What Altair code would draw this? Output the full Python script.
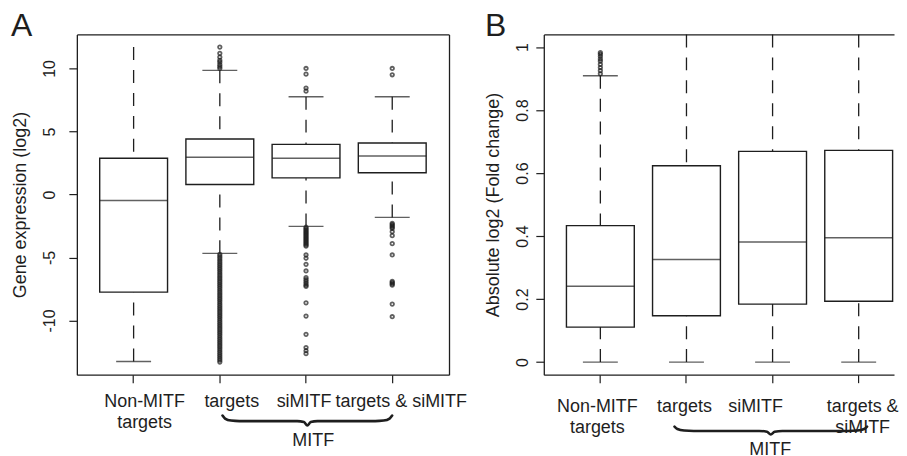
import altair as alt
import pandas as pd

FONT = "Liberation Sans"
INK = "#1e1e1e"

cats = ["Non-MITF targets", "targets", "siMITF", "targets & siMITF"]

# ---------------- Panel A : gene expression (log2) ----------------
a_low = [-13.25, -4.67, -2.53, -1.82]
a_q1 = [-7.75, 0.79, 1.32, 1.72]
a_med = [-0.47, 2.95, 2.87, 3.06]
a_q3 = [2.87, 4.40, 3.98, 4.09]
a_high = [11.7, 9.85, 7.76, 7.76]
a_cap_low = [-13.25, -4.67, -2.53, -1.82]
a_cap_high = [None, 9.85, 7.76, 7.76]

a_out_targets = [11.7, 11.2, 10.9, 10.65, 10.5, 10.3, 10.15, 10.0,
                 -4.75, -4.9, -5.05, -5.2, -5.35, -5.5, -5.65, -5.8, -5.95, -6.1,
                 -6.25, -6.4, -6.55, -6.7, -6.85, -7.0, -7.15, -7.3, -7.45, -7.6,
                 -7.75, -7.9, -8.05, -8.2, -8.35, -8.5, -8.65, -8.8, -8.95, -9.1,
                 -9.25, -9.4, -9.55, -9.7, -9.85, -10.0, -10.15, -10.3, -10.45,
                 -10.6, -10.75, -10.9, -11.05, -11.2, -11.35, -11.5, -11.65, -11.8,
                 -11.95, -12.1, -12.25, -12.4, -12.55, -12.7, -12.85, -13.0, -13.15, -13.3]
a_out_simitf = [10.0, 9.55, 8.45, 8.2,
                -2.6, -2.7, -2.8, -2.9, -3.0, -3.1, -3.2, -3.3, -3.4, -3.5, -3.6,
                -3.7, -3.8, -3.9, -4.0, -4.1, -4.8, -5.06, -5.54, -6.07,
                -6.6, -6.75, -6.9, -7.05, -7.2, -7.3, -8.6, -9.65, -11.1, -12.15, -12.4, -12.63]
a_out_both = [10.0, 9.5,
              -2.3, -2.4, -2.5, -2.6, -2.7, -2.95, -3.27, -3.9, -4.8,
              -6.9, -7.0, -7.1, -7.2, -8.7, -9.7]

# ---------------- Panel B : absolute log2 fold change ----------------
b_low = [0.0, 0.0, 0.0, 0.0]
b_q1 = [0.111, 0.147, 0.184, 0.193]
b_med = [0.241, 0.326, 0.381, 0.395]
b_q3 = [0.433, 0.623, 0.669, 0.672]
b_high = [0.909, 1.04, 1.04, 1.04]
b_cap_low = [0.0, 0.0, 0.0, 0.0]
b_cap_high = [0.909, None, None, None]
b_out_non = [0.915, 0.925, 0.935, 0.945, 0.955, 0.962, 0.97, 0.977, 0.982]

# tick-label lines and the sideways shift of each label (px)
a_label_lines = [["Non-MITF", "targets"], ["targets"], ["siMITF"], ["targets & siMITF"]]
b_label_lines = [["Non-MITF", "targets"], ["targets"], ["siMITF"], ["targets &", "siMITF"]]
a_label_shift = [11, 12, -2, 9]
b_label_shift = [-3, -2, -17, 4]

# brace shape (fraction along span, fraction of depth)
brace_t = [0.0, 0.015, 0.05, 0.1, 0.44, 0.48, 0.5, 0.52, 0.56, 0.9, 0.95, 0.985, 1.0]
brace_h = [0.0, 0.3, 0.5, 0.55, 0.55, 0.65, 1.0, 0.65, 0.55, 0.55, 0.5, 0.3, 0.0]


def js_str(s):
    return "'" + s.replace("'", "\\'") + "'"


def label_expr(lines):
    expr = "datum.value"
    for c, l in zip(cats, lines):
        arr = "[" + ",".join(js_str(x) for x in l) + "]"
        expr = f"datum.value == {js_str(c)} ? {arr} : ({expr})"
    return expr


def offset_expr(shifts):
    expr = "0"
    for c, s in zip(cats, shifts):
        expr = f"datum.value == {js_str(c)} ? {s} : ({expr})"
    return expr


def panel(width, pad_inner, pad_outer, align, low, q1, med, q3, high, cap_low, cap_high,
          outliers, ydom, yvals, ytitle, title_x, ylab_pad, lab_lines, lab_shift, xbase,
          xpad, brace_xr, brace_yr, mitf_t, mitf_h, letter, letter_x, right_frame):
    box_df = pd.DataFrame({"cat": cats, "low": low, "q1": q1, "med": med, "q3": q3,
                           "high": high, "cap_low": cap_low, "cap_high": cap_high})
    rows = []
    for c, vals in outliers.items():
        for v in vals:
            rows.append({"cat": c, "val": v})
    out_df = pd.DataFrame(rows)

    xscale = alt.Scale(type="band", domain=cats, paddingInner=pad_inner,
                       paddingOuter=pad_outer, align=align)
    xaxis = alt.Axis(title=None, labelExpr=label_expr(lab_lines),
                     labelOffset={"expr": offset_expr(lab_shift)},
                     labelAngle=0, labelAlign="center", labelBaseline=xbase,
                     labelPadding=xpad, labelFontSize=18, labelLineHeight=21,
                     labelFont=FONT, labelColor=INK, labelOverlap=False, labelLimit=300,
                     tickSize=8, tickColor=INK, tickWidth=1.2, tickBand="center",
                     domain=True, domainColor=INK, domainWidth=1.3, grid=False)
    xaxis_top = alt.Axis(orient="top", title=None, labels=False, ticks=False,
                         domain=True, domainColor=INK, domainWidth=1.3, grid=False)
    yscale = alt.Scale(domain=ydom, nice=False, zero=False)
    yaxis = alt.Axis(values=yvals, labelExpr="toString(datum.value)", title=ytitle,
                     titleFont=FONT, titleFontSize=18, titleFontWeight="normal",
                     titleColor=INK, titleAngle=270, titleX=title_x,
                     titleY=170.5, titleAlign="center", titleBaseline="alphabetic",
                     labelAngle=270, labelAlign="center", labelBaseline="bottom",
                     labelPadding=ylab_pad, labelFontSize=16, labelFont=FONT,
                     labelColor=INK, tickSize=8, tickColor=INK, tickWidth=1.2,
                     domain=True, domainColor=INK, domainWidth=1.3, grid=False)
    yaxis_right = alt.Axis(orient="right", title=None, labels=False, ticks=False,
                           domain=True, domainColor=INK, domainWidth=1.3, grid=False)

    def X(axis=None):
        return alt.X("cat:N", scale=xscale, axis=axis)

    def Y(f, axis=None):
        return alt.Y(f, type="quantitative", scale=yscale, axis=axis)

    base = alt.Chart(box_df)
    upper = base.mark_rule(strokeDash=[13, 10], strokeWidth=1.3, color=INK).encode(
        x=X(xaxis), y=Y("high", yaxis), y2="q3")
    lower = base.mark_rule(strokeDash=[13, 10], strokeWidth=1.3, color=INK).encode(
        x=X(), y=Y("low"), y2="q1")
    caps_hi = base.mark_tick(size=35, thickness=1.4, color=INK).encode(
        x=X(), y=Y("cap_high"))
    caps_lo = base.mark_tick(size=35, thickness=1.4, color=INK).encode(
        x=X(), y=Y("cap_low"))
    boxes = base.mark_bar(width=68, fill="white", stroke=INK, strokeWidth=1.4).encode(
        x=X(), y=Y("q1"), y2="q3")
    meds = base.mark_tick(size=68, thickness=1.5, color=INK).encode(
        x=X(xaxis_top), y=Y("med", yaxis_right if right_frame else None))
    pts = alt.Chart(out_df).mark_point(shape="circle", filled=False, size=12,
                                       strokeWidth=1.8, color=INK).encode(
        x=X(), y=Y("val"))
    boxlayer = alt.layer(upper, lower, caps_hi, caps_lo, boxes, meds, pts).resolve_axis(
        x="independent", y="independent")

    bx = alt.Scale(domain=[0, 1], range=brace_xr)
    by = alt.Scale(domain=[0, 1], range=brace_yr)
    brace_df = pd.DataFrame({"t": brace_t, "h": brace_h, "i": list(range(len(brace_t)))})
    brace = alt.Chart(brace_df).mark_line(interpolate="monotone", strokeWidth=2.6,
                                          color=INK, strokeCap="round").encode(
        x=alt.X("t:Q", scale=bx, axis=None),
        y=alt.Y("h:Q", scale=by, axis=None),
        order="i:Q")
    mitf = alt.Chart(pd.DataFrame({"t": [mitf_t], "h": [mitf_h], "lab": ["MITF"]})).mark_text(
        font=FONT, fontSize=18, baseline="alphabetic", align="center", color=INK).encode(
        x=alt.X("t:Q", scale=bx, axis=None),
        y=alt.Y("h:Q", scale=by, axis=None),
        text="lab:N")
    tag = alt.Chart(pd.DataFrame({"lab": [letter]})).mark_text(
        font=FONT, fontSize=32, baseline="alphabetic", align="left", color=INK).encode(
        x=alt.value(letter_x), y=alt.value(2), text="lab:N")
    bracelayer = alt.layer(brace, mitf, tag)

    return alt.layer(boxlayer, bracelayer).resolve_scale(
        x="independent", y="independent").properties(width=width, height=341)


chart_a = panel(373, 0, 0.1586, 0.5, a_low, a_q1, a_med, a_q3, a_high, a_cap_low, a_cap_high,
                {"targets": a_out_targets, "siMITF": a_out_simitf, "targets & siMITF": a_out_both},
                [-14.3, 12.7], [-10, -5, 0, 5, 10], "Gene expression (log2)", -51, 11.5,
                a_label_lines, a_label_shift, "top", 10,
                [146, 316], [382, 392], 0.535, 3.0, "A", -66, True)

chart_b = panel(351, 0.5, 0.2836, 0.7175, b_low, b_q1, b_med, b_q3, b_high, b_cap_low, b_cap_high,
                {"Non-MITF targets": b_out_non},
                [-0.04, 1.04], [0, 0.2, 0.4, 0.6, 0.8, 1], "Absolute log2 (Fold change)", -45, 5.5,
                b_label_lines, b_label_shift, "middle", 24,
                [131, 324], [393, 401], 0.497, 3.6, "B", -59, False)

chart = alt.hconcat(chart_a, chart_b, spacing=95, bounds="flush").properties(
    padding={"left": 2, "top": 1, "right": 0, "bottom": 0}
).configure_view(stroke="transparent")

chart.save("out.html", embed_options={"renderer": "svg", "actions": False})
